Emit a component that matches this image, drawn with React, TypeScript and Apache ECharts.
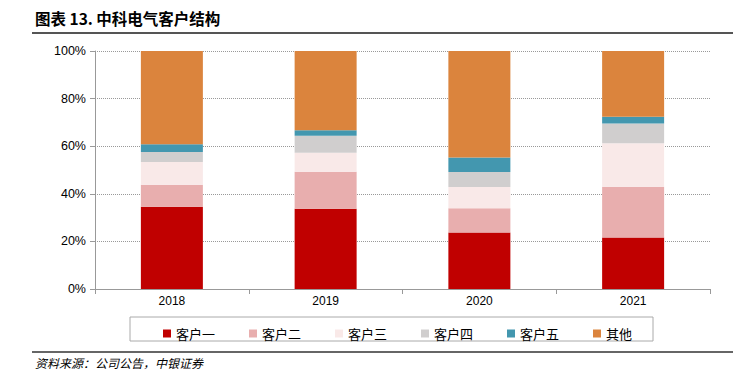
import React, { useEffect, useRef } from "react";
import * as echarts from "echarts";

const categories = ["2018", "2019", "2020", "2021"];
const seriesNames = ["客户一", "客户二", "客户三", "客户四", "客户五", "其他"];
const customer1 = [34.6, 33.7, 23.7, 21.6];
const customer2 = [9.2, 15.6, 10.2, 21.4];
const customer3 = [9.6, 8.0, 9.0, 18.2];
const customer4 = [4.2, 7.1, 6.3, 8.3];
const customer5 = [3.2, 2.3, 6.1, 2.9];
const others = [39.2, 33.3, 44.7, 27.6];
const colors = ["#C00000", "#E8AEAE", "#F9E9E8", "#D0CECE", "#4397AF", "#DB843D"];
const yTicks = ["0%", "20%", "40%", "60%", "80%", "100%"];

export default function App() {
  const ref = useRef<HTMLDivElement>(null);
  useEffect(() => {
    if (!ref.current) return;
    const chart = echarts.init(ref.current, undefined, { renderer: "svg" });
    const data = [customer1, customer2, customer3, customer4, customer5, others];
    chart.setOption({
      animation: false,
      grid: { left: 95, right: 30, top: 51, bottom: 88 },
      xAxis: {
        type: "category",
        data: categories,
        axisLine: { lineStyle: { color: "#999" } },
        axisTick: { show: true, length: 5, lineStyle: { color: "#999" } },
        axisLabel: { color: "#000", fontSize: 12, fontFamily: "Liberation Sans", margin: 6 },
      },
      yAxis: {
        type: "value",
        min: 0,
        max: 100,
        interval: 20,
        axisLine: { show: true, lineStyle: { color: "#999" } },
        axisTick: { show: true, length: 5, lineStyle: { color: "#999" } },
        axisLabel: {
          color: "#000",
          fontSize: 12.5,
          fontFamily: "Liberation Sans",
          margin: 9,
          formatter: (v: number) => yTicks[Math.round(v / 20)],
        },
        splitLine: { lineStyle: { color: "#999", type: "dotted" } },
      },
      legend: {
        data: seriesNames,
        left: 158,
        top: 322,
        itemWidth: 8,
        itemHeight: 8,
        itemGap: 34,
        icon: "rect",
        textStyle: { fontSize: 13, color: "#000", fontFamily: "Noto Sans CJK SC" },
      },
      graphic: [
        { type: "text", left: 35, top: 10, style: { text: "图表 13. 中科电气客户结构", font: "bold 15.5px 'Noto Sans CJK SC'", fill: "#000" } },
        { type: "line", shape: { x1: 32, y1: 33, x2: 733, y2: 33 }, style: { stroke: "#555", lineWidth: 2 } },
        { type: "rect", shape: { x: 130, y: 317, width: 523, height: 24 }, style: { fill: "none", stroke: "#aaa", lineWidth: 1 } },
        { type: "line", shape: { x1: 32, y1: 352, x2: 733, y2: 352 }, style: { stroke: "#333", lineWidth: 1.5 } },
        { type: "text", left: 35, top: 356, style: { text: "资料来源：公司公告，中银证券", font: "italic 12px 'Noto Sans CJK SC'", fill: "#000" } },
      ],
      series: seriesNames.map((name, i) => ({
        name,
        type: "bar",
        stack: "total",
        barWidth: 62,
        data: data[i],
        itemStyle: { color: colors[i] },
      })),
    });
    return () => chart.dispose();
  }, []);
  return <div ref={ref} style={{ width: 740, height: 377, position: "absolute", left: 0, top: 0 }} />;
}
